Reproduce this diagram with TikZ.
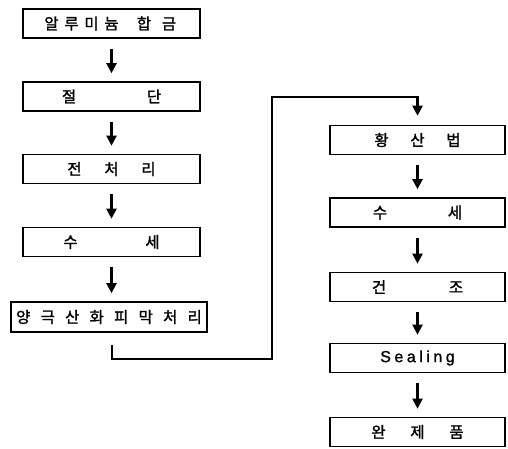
\documentclass[tikz,border=0pt]{standalone}
\usepackage{fontspec}
\setmainfont{Noto Sans CJK KR}[FakeBold=1.5]
\newfontfamily\latinsans{Liberation Sans}[LetterSpace=22,FakeBold=1.2]
\usetikzlibrary{arrows.meta}
% evenly spaced characters: each glyph centred in a cell of the given width
\newcommand{\cells}[2]{\def\cellw{#1}\cellsloop#2\relax}
\def\cellsloop#1{\ifx#1\relax\else\makebox[\cellw]{#1}\expandafter\cellsloop\fi}
\begin{document}
\begin{tikzpicture}[x=1pt,y=1pt,
  stepbox/.style={draw, line width=1.6pt, minimum height=29pt, inner sep=0pt,
    font=\fontsize{15.5}{17}\selectfont},
  leftbox/.style={stepbox, minimum width=177pt},
  rightbox/.style={stepbox, minimum width=175pt},
  flow/.style={line width=2.1pt, -{Triangle[width=10pt,length=10pt]}},
  gap/.style={flow, shorten <=10pt, shorten >=8pt}]
\useasboundingbox (0,0) rectangle (508,-448);

% left column
\node[leftbox] (b1) at (111.5,-23.5) {\cells{20pt}{알루미늄}\hspace{10pt}\cells{25pt}{합금}};
\node[leftbox] (b2) at (111.5,-96.5) {\cells{85pt}{절단}};
\node[leftbox] (b3) at (111.5,-169) {\cells{37pt}{전처리}};
\node[leftbox] (b4) at (111.5,-242) {\cells{82pt}{수세}};
\node[stepbox, minimum width=192pt, minimum height=30pt] (b5) at (109,-317) {\cells{24.5pt}{양극산화피막처리}};

% right column
\node[rightbox] (b6) at (417.5,-140) {\cells{36pt}{황산법}};
\node[rightbox] (b7) at (417.5,-212.5) {\cells{75pt}{수세}};
\node[rightbox] (b8) at (417.5,-287) {\cells{77pt}{건조}};
\node[rightbox] (b9) at (417.5,-358) {\latinsans\fontsize{16}{18}\selectfont Sealing};
\node[rightbox] (b10) at (417.5,-432) {\cells{39pt}{완제품}};

% arrows within the columns
\draw[gap] (b1) -- (b2);
\draw[gap] (b2) -- (b3);
\draw[gap] (b3) -- (b4);
\draw[gap] (b4.south) -- (b4.south |- b5.north);
\draw[gap] (b6) -- (b7);
\draw[gap] (b7) -- (b8);
\draw[gap] (b8) -- (b9);
\draw[gap] (b9) -- (b10);

% connector from the bottom of the left column to the top of the right one
\coordinate (lowturn) at (272,-359);
\coordinate (highturn) at (272,-97);
\draw[flow, shorten <=12pt, shorten >=9pt] ([xshift=3pt]b5.south) |- (lowturn) -- (highturn) -| (b6.north);
\end{tikzpicture}
\end{document}
